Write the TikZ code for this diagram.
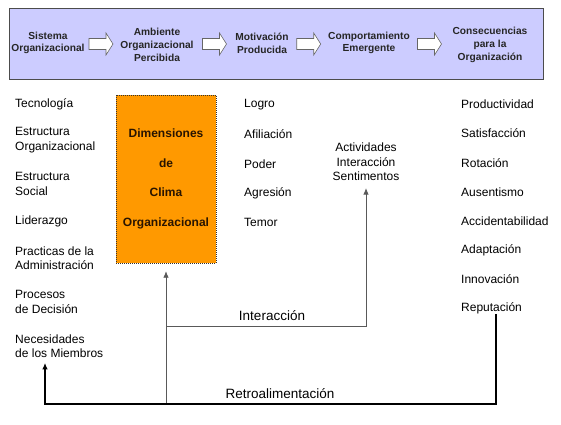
\documentclass[tikz,border=0pt]{standalone}
\usepackage{fontspec}
\setmainfont{Liberation Sans}
\usetikzlibrary{arrows.meta}
\definecolor{bannerfill}{RGB}{204,204,255}
\definecolor{orng}{RGB}{255,153,0}
\definecolor{dimtext}{RGB}{40,20,0}
\begin{document}
\begin{tikzpicture}[x=1pt,y=-1pt,
  ban/.style={font=\fontsize{10.2}{12.7}\selectfont\bfseries, align=center, inner sep=0pt, text=black!85},
  blockarrow/.pic={\draw[draw=black!60, fill=white, line width=0.6pt, line join=miter]
      (-12,-5.5) -- (5,-5.5) -- (5,-11) -- (12,0) -- (5,11) -- (5,5.5) -- (-12,5.5) -- cycle;},
  lbl/.style={font=\fontsize{12}{14.5}\selectfont, align=left, anchor=west, inner sep=0pt},
  flowlbl/.style={font=\fontsize{13.5}{16}\selectfont, inner sep=0pt},
  inter/.style={draw=black!65, line width=0.8pt},
  retro/.style={draw=black, line width=1.3pt},
  tip/.style={-{Latex[length=6.5pt,width=5.5pt]}}
  ]
\useasboundingbox (0,0) rectangle (561,424);
\fill[white] (0,0) rectangle (561,424);

% banner
\node[draw=black!70, fill=bannerfill, line width=0.8pt, minimum width=534pt, minimum height=71pt, inner sep=0pt] (banner) at (276,43.5) {};
\node[ban] (b1) at (48,43) {Sistema\\Organizacional};
\pic (a1) at (101,44) {blockarrow};
\node[ban] (b2) at (157,45) {Ambiente\\Organizacional\\Percibida};
\pic (a2) at (214.5,44) {blockarrow};
\node[ban] (b3) at (262,43) {Motivación\\Producida};
\pic (a3) at (308.7,44) {blockarrow};
\node[ban] (b4) at (369,43) {Comportamiento\\Emergente};
\pic (a4) at (429.5,44) {blockarrow};
\node[ban] (b5) at (490,45) {Consecuencias\\para la\\Organización};

% orange box
\node[draw=black!80, dash pattern=on 1pt off 1pt, fill=orng, minimum width=100pt, minimum height=168pt,
  inner sep=0pt, align=center, text=dimtext, font=\fontsize{12}{29.5}\selectfont\bfseries] (dim) at (166,179)
  {Dimensiones\\de\\Clima\\Organizacional};

% left column
\node[lbl] (tec) at (15,104) {Tecnología};
\node[lbl] (eo) at (15,140) {Estructura\\Organizacional};
\node[lbl] (es) at (15,184) {Estructura\\Social};
\node[lbl] (lid) at (15,221) {Liderazgo};
\node[lbl] (pra) at (15,258) {Practicas de la\\Administración};
\node[lbl] (pro) at (15,302) {Procesos\\de Decisión};
\node[lbl] (nec) at (15,346) {Necesidades\\de los Miembros};

% middle column
\node[lbl] (log) at (244,105) {Logro};
\node[lbl] (afi) at (244,134) {Afiliación};
\node[lbl] (pod) at (244,164) {Poder};
\node[lbl] (agr) at (244,193) {Agresión};
\node[lbl] (tem) at (244,222) {Temor};

\node[lbl, anchor=center, align=center] (act) at (366,162) {Actividades\\Interacción\\Sentimentos};

% right column
\node[lbl] (prod) at (461,104) {Productividad};
\node[lbl] (sat) at (461,133) {Satisfacción};
\node[lbl] (rot) at (461,163) {Rotación};
\node[lbl] (aus) at (461,192) {Ausentismo};
\node[lbl] (acc) at (461,221) {Accidentabilidad};
\node[lbl] (ada) at (461,250) {Adaptación};
\node[lbl] (inn) at (461,279) {Innovación};
\node[lbl] (rep) at (461,308) {Reputación};

% flow labels
\node[flowlbl] (linter) at (272,316) {Interacción};
\node[flowlbl] (lretro) at (280,394) {Retroalimentación};

% connectors
\coordinate (j1) at (166,404);
\coordinate (j2) at (166,326);
\coordinate (r1) at (496,404);
\coordinate (l1) at (45,404);

\draw[inter, tip, shorten >=8pt] (j1) -- (dim.south);
\draw[inter, tip, shorten >=7pt] (j2) -| (act.south);
\draw[retro, tip, shorten >=5pt, line join=miter] (r1 |- rep.south) -- (r1) -- (l1) -- (l1 |- nec.south);
\end{tikzpicture}
\end{document}
